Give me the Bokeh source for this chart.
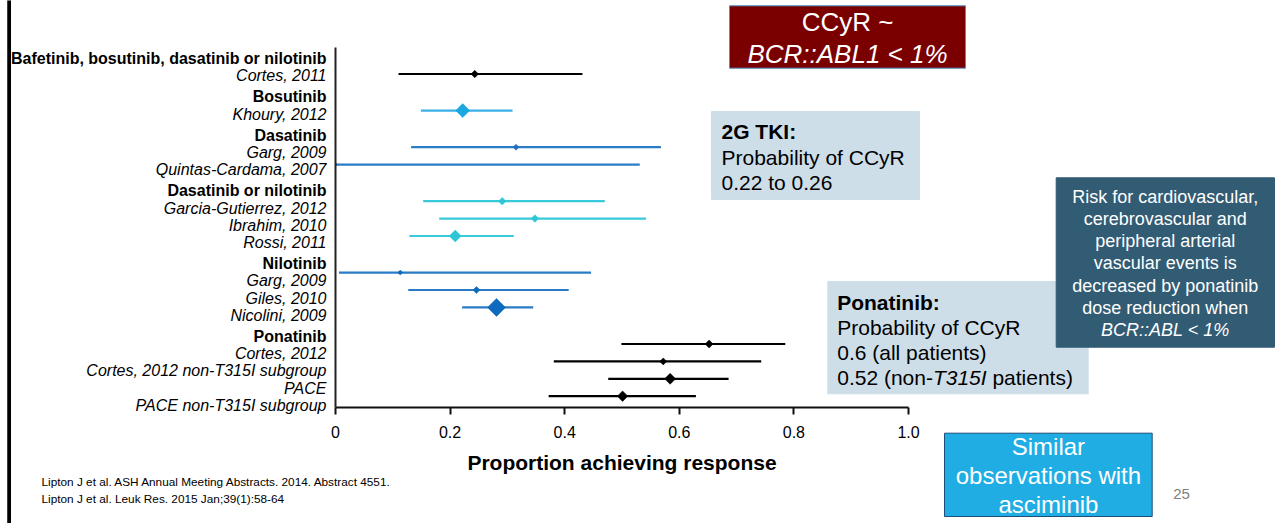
import numpy as np
from bokeh.plotting import figure
from bokeh.models import ColumnDataSource, LabelSet, Label, FixedTicker, Range1d
from bokeh.core.properties import value
from bokeh.embed import file_html
from bokeh.resources import INLINE

# ---------------- data ----------------
groups = [
    "Bafetinib, bosutinib, dasatinib or nilotinib",
    "Bosutinib",
    "Dasatinib",
    "Dasatinib or nilotinib",
    "Nilotinib",
    "Ponatinib",
]
studies = [
    "Cortes, 2011",
    "Khoury, 2012",
    "Garg, 2009",
    "Quintas-Cardama, 2007",
    "Garcia-Gutierrez, 2012",
    "Ibrahim, 2010",
    "Rossi, 2011",
    "Garg, 2009",
    "Giles, 2010",
    "Nicolini, 2009",
    "Cortes, 2012",
    "Cortes, 2012 non-T315I subgroup",
    "PACE",
    "PACE non-T315I subgroup",
]
study_group = [0, 1, 2, 2, 3, 3, 3, 4, 4, 4, 5, 5, 5, 5]
estimate = [0.243, 0.222, 0.315, 0.0, 0.291, 0.348, 0.209, 0.113, 0.246, 0.281, 0.652, 0.572, 0.584, 0.501]
ci_low = [0.110, 0.149, 0.132, 0.0, 0.153, 0.181, 0.129, 0.006, 0.127, 0.221, 0.499, 0.381, 0.476, 0.372]
ci_high = [0.431, 0.309, 0.568, 0.531, 0.470, 0.542, 0.311, 0.446, 0.407, 0.345, 0.785, 0.743, 0.686, 0.629]
study_weight = [7.5, 14, 6, 4, 7.5, 7.5, 12, 5, 7, 18, 8, 7, 11, 10.5]

x_ticks = [0, 0.2, 0.4, 0.6, 0.8, 1.0]
x_tick_labels = ["0", "0.2", "0.4", "0.6", "0.8", "1.0"]
x_title = "Proportion achieving response"

# ---------------- style / layout ----------------
line_colors = ["#000000", "#3AB0E6", "#2B7CC6", "#38CADB", "#2A7AC8", "#000000"]
marker_colors = ["#000000", "#1BA8E0", "#2571BE", "#2CC6D4", "#0D6ABD", "#000000"]
FONT = "Liberation Sans"
W, H = 1277, 523
FL, FW, FT, FH = 335, 573, 47, 360  # plot frame: left, width, top, height (px)

label_step, header_extra, label_first = 17.2, 4.0, 11.0
data_step, data_gap, data_first = 17.4, 19.2, 26.5

header_y, study_label_y, data_y = [], [], []
pos = label_first
dpos = data_first
for g, name in enumerate(groups):
    if g > 0:
        pos += header_extra
        dpos += data_gap
    header_y.append(pos)
    pos += label_step
    for k, sg in enumerate(study_group):
        if sg == g:
            study_label_y.append(pos)
            pos += label_step
            data_y.append(dpos)
            dpos += data_step

# ---------------- back figure: whole canvas (labels + slide decorations) ----------------
pb = figure(width=W, height=H, output_backend="svg", toolbar_location=None,
            x_range=Range1d(-FL / FW, (W - FL) / FW), y_range=Range1d(H - FT, -FT),
            min_border=0, x_axis_type=None, y_axis_type=None)
pb.outline_line_color = None
pb.grid.visible = False
pb.background_fill_color = "white"
pb.border_fill_color = "white"


def X(px):
    return (px - FL) / FW


def Y(py):
    return py - FT


def box(x0, y0, x1, y1, fill, line=None):
    pb.quad(left=[X(x0)], right=[X(x1)], top=[Y(y0)], bottom=[Y(y1)],
            fill_color=fill, line_color=line if line else fill, line_width=1)


def txt(s, x, y, size, color="#000000", style="normal", align="left"):
    pb.add_layout(Label(x=X(x), y=Y(y), text=s, text_font=FONT, text_font_size=size,
                        text_color=color, text_font_style=style, text_align=align,
                        text_baseline="middle"))


hdr_src = ColumnDataSource(dict(x=[0] * len(groups), y=header_y, text=groups))
pb.add_layout(LabelSet(x="x", y="y", text="text", source=hdr_src, x_offset=-9,
                       text_align="right", text_baseline="middle", text_font=value(FONT),
                       text_font_style="bold", text_font_size="16px", text_color="#000000"))
st_src = ColumnDataSource(dict(x=[0] * len(studies), y=study_label_y, text=studies))
pb.add_layout(LabelSet(x="x", y="y", text="text", source=st_src, x_offset=-9,
                       text_align="right", text_baseline="middle", text_font=value(FONT),
                       text_font_style="italic", text_font_size="16px", text_color="#000000"))

box(7.3, -2, 10, H + 2, "#000000")

box(729, 5.3, 965, 67.7, "#7A0000", "#4F94C8")
txt("CCyR ~", 847, 21.7, "26px", "#FFFFFF", align="center")
txt("BCR::ABL1 < 1%", 847, 53.3, "26px", "#FFFFFF", style="italic", align="center")

box(711, 111, 919, 199, "#CEDEE8")
txt("2G TKI:", 721, 130.7, "21px", style="bold")
txt("Probability of CCyR", 721, 156.7, "21px")
txt("0.22 to 0.26", 721, 181.7, "21px")

box(827.3, 281, 1087.7, 393.3, "#CEDEE8")
txt("Ponatinib:", 836.7, 301.7, "21px", style="bold")
txt("Probability of CCyR", 836.7, 326.5, "21px")
txt("0.6 (all patients)", 836.7, 351.7, "21px")
txt("0.52 (non-", 836.7, 376.7, "21px")
txt("T315I", 836.7 + 95.7, 376.7, "21px", style="italic")
txt("patients)", 836.7 + 149.4 + 5.8, 376.7, "21px")

box(1055.7, 177.3, 1274, 346.7, "#325B74")
teal_lines = ["Risk for cardiovascular,", "cerebrovascular and", "peripheral arterial",
              "vascular events is", "decreased by ponatinib", "dose reduction when"]
for i, s in enumerate(teal_lines):
    txt(s, 1164.8, 196 + 22.3 * i, "18px", "#FFFFFF", align="center")
txt("BCR::ABL < 1%", 1164.8, 196 + 22.3 * 6, "18px", "#FFFFFF", style="italic", align="center")

box(944, 432.7, 1151.7, 516, "#1FADE4", "#1F4E79")
for i, s in enumerate(["Similar", "observations with", "asciminib"]):
    txt(s, 1047.9, 446 + 29.2 * i, "24px", "#FFFFFF", align="center")

txt("25", 1181, 493.3, "15px", "#808080", align="center")
txt("Lipton J et al. ASH Annual Meeting Abstracts. 2014. Abstract 4551.", 41, 481, "11.8px")
txt("Lipton J et al. Leuk Res. 2015 Jan;39(1):58-64", 41, 498, "11.8px")

# ---------------- front figure: forest plot with its axes ----------------
pf = figure(width=W, height=H, output_backend="svg", toolbar_location=None,
            x_range=Range1d(0, 1), y_range=Range1d(FH, 0),
            min_border_left=FL, min_border_right=W - FL - FW,
            min_border_top=FT, min_border_bottom=H - FT - FH)
pf.outline_line_color = None
pf.grid.visible = False
pf.background_fill_color = None
pf.border_fill_color = None
pf.styles = {"margin-top": f"-{H}px"}

xa = pf.xaxis[0]
xa.ticker = FixedTicker(ticks=x_ticks)
xa.major_label_overrides = dict(zip(x_ticks, x_tick_labels))
xa.minor_tick_line_color = None
xa.major_tick_in = 0
xa.major_tick_out = 7
xa.major_tick_line_width = 2
xa.axis_line_width = 2
xa.axis_line_color = "#111111"
xa.major_tick_line_color = "#111111"
xa.major_label_text_font = FONT
xa.major_label_text_font_size = "16px"
xa.major_label_text_color = "#000000"
xa.major_label_standoff = 11
xa.axis_label = x_title
xa.axis_label_text_font = FONT
xa.axis_label_text_font_style = "bold"
xa.axis_label_text_font_size = "21px"
xa.axis_label_text_color = "#000000"
xa.axis_label_standoff = 10

ya = pf.yaxis[0]
ya.ticker = FixedTicker(ticks=[])
ya.major_tick_line_color = None
ya.minor_tick_line_color = None
ya.axis_line_width = 2
ya.axis_line_color = "#222222"
ya.major_label_text_font_size = "0px"

src = ColumnDataSource(dict(
    study=studies, est=estimate, lo=ci_low, hi=ci_high, y=data_y,
    lcolor=[line_colors[g] for g in study_group],
    mcolor=[marker_colors[g] for g in study_group],
    size=[w / np.sqrt(2) for w in study_weight],
))
pf.segment(x0="lo", y0="y", x1="hi", y1="y", source=src, line_color="lcolor", line_width=2.2)
pf.scatter(x="est", y="y", size="size", marker="square", angle=np.pi / 4,
           fill_color="mcolor", line_color="mcolor", line_width=0.5, source=src)

open("out.html", "w").write(file_html([pb, pf], INLINE))
